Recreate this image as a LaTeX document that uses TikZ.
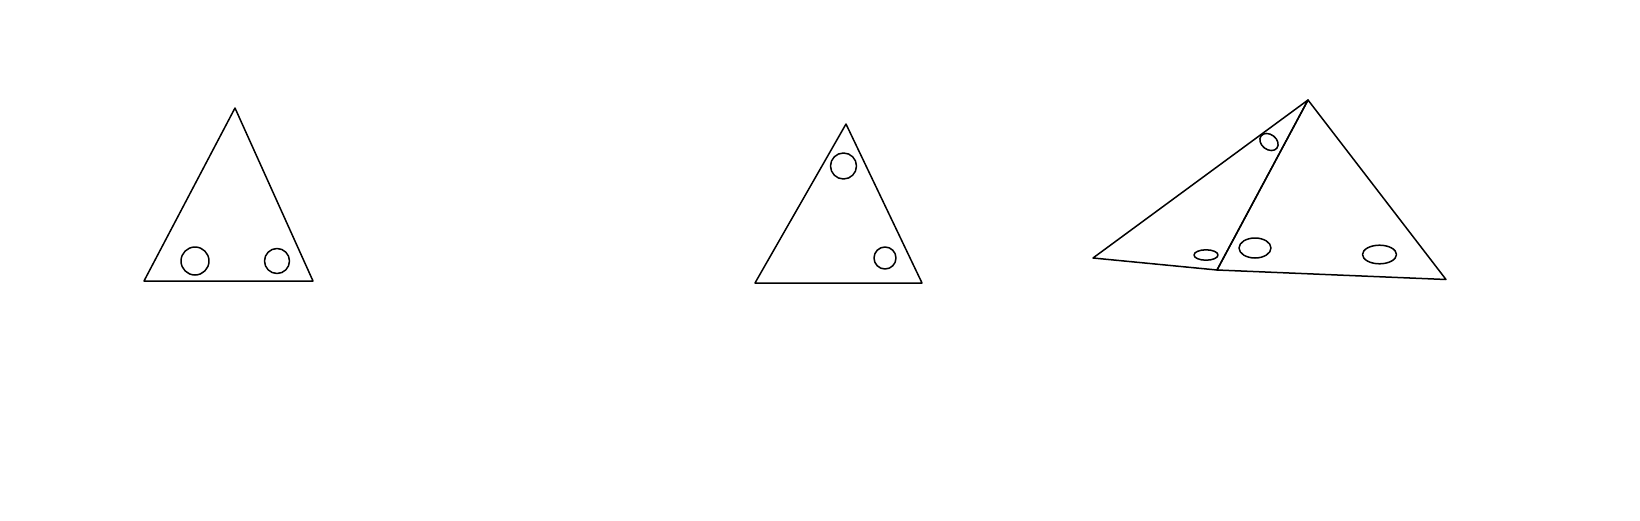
\documentclass[tikz,border=0pt]{standalone}
\begin{document}
\begin{tikzpicture}[x=0.5pt,y=-0.5pt,line width=0.75pt,
  outl/.style={draw=black,line join=round}]
\useasboundingbox (0,0) rectangle (1640,520);
% triangle 1
\coordinate (a1) at (235,108);
\coordinate (b1) at (144,281);
\coordinate (c1) at (313,281);
\draw[outl] (a1) -- (b1) -- (c1) -- cycle;
\draw[outl] (195,261) circle [radius=14];
\draw[outl] (277,261) circle [radius=12.5];
% triangle 2
\coordinate (a2) at (846,124);
\coordinate (b2) at (755,283);
\coordinate (c2) at (922,283);
\draw[outl] (a2) -- (b2) -- (c2) -- cycle;
\draw[outl] (843.5,166) circle [radius=13];
\draw[outl] (885,258) circle [radius=11];
% triangle 3
\coordinate (a3) at (1308,100);
\coordinate (l3) at (1093,258);
\coordinate (m3) at (1217,270);
\coordinate (r3) at (1446,279.5);
\draw[outl] (a3) -- (l3) -- (m3) -- cycle;
\draw[outl] (a3) -- (m3) -- (r3) -- cycle;
\draw[outl,rotate around={-38:(1269,142)}] (1269,142) ellipse [x radius=10, y radius=7.5];
\draw[outl] (1206,255) ellipse [x radius=12, y radius=5.2];
\draw[outl] (1255,248) ellipse [x radius=16, y radius=10];
\draw[outl] (1379.5,254.5) ellipse [x radius=17, y radius=9.3];
\end{tikzpicture}
\end{document}
